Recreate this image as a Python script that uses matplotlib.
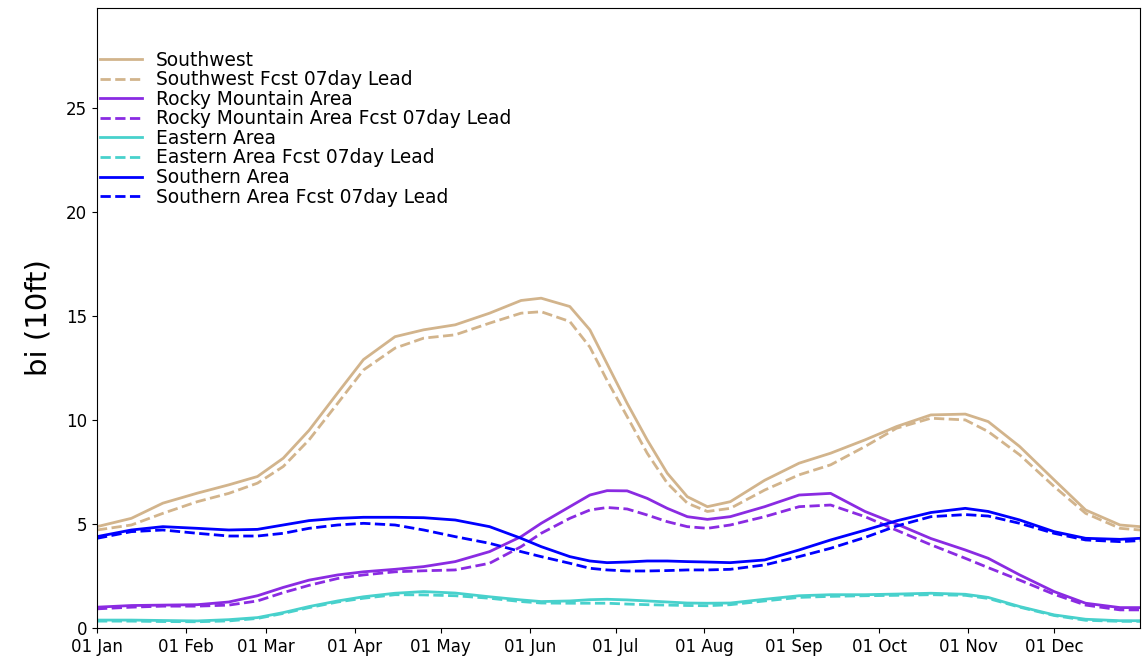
import numpy as np
import matplotlib
matplotlib.use("Agg")
import matplotlib.pyplot as plt
import matplotlib.dates as mdates

# day of year for each sample
days = [0, 12, 23, 35, 46, 56, 65, 74, 84, 93, 104,
        114, 125, 137, 148, 155, 165, 172, 178, 185, 192, 199, 206, 213,
        221, 233, 245, 256, 268, 279, 291, 303,
        311, 322, 334, 345, 357, 364]

southwest = [4.87, 5.27, 6.0, 6.48, 6.88, 7.28, 8.16, 9.5, 11.3, 12.9, 14.0,
             14.33, 14.57, 15.13, 15.74, 15.85, 15.45, 14.33, 12.7, 10.8, 9.04, 7.44, 6.31, 5.83,
             6.07, 7.1, 7.92, 8.4, 9.04, 9.68, 10.24, 10.28,
             9.92, 8.72, 7.12, 5.67, 4.95, 4.87]
southwest_fc = [4.71, 4.95, 5.51, 6.07, 6.47, 6.96, 7.76, 9.04, 10.8, 12.4, 13.45,
                13.93, 14.09, 14.65, 15.13, 15.2, 14.73, 13.5, 11.9, 10.16, 8.4, 6.96, 6.0, 5.6,
                5.75, 6.63, 7.36, 7.84, 8.72, 9.6, 10.08, 10.0,
                9.44, 8.32, 6.8, 5.51, 4.79, 4.71]

rocky = [1.0, 1.08, 1.1, 1.12, 1.25, 1.55, 1.95, 2.3, 2.55, 2.7, 2.82,
         2.95, 3.19, 3.67, 4.39, 5.03, 5.83, 6.39, 6.6, 6.59, 6.23, 5.75, 5.35, 5.22,
         5.35, 5.83, 6.39, 6.47, 5.6, 5.0, 4.3, 3.75,
         3.35, 2.55, 1.75, 1.19, 0.98, 0.98]
rocky_fc = [0.92, 1.0, 1.05, 1.05, 1.1, 1.3, 1.7, 2.05, 2.38, 2.55, 2.7,
            2.75, 2.79, 3.11, 3.91, 4.55, 5.27, 5.67, 5.79, 5.72, 5.43, 5.11, 4.87, 4.79,
            4.95, 5.35, 5.83, 5.91, 5.35, 4.7, 4.0, 3.35,
            2.9, 2.3, 1.62, 1.1, 0.87, 0.87]

eastern = [0.38, 0.38, 0.36, 0.34, 0.4, 0.5, 0.74, 1.03, 1.3, 1.5, 1.67,
           1.75, 1.68, 1.5, 1.35, 1.27, 1.3, 1.36, 1.38, 1.35, 1.3, 1.25, 1.2, 1.19,
           1.2, 1.38, 1.55, 1.6, 1.6, 1.63, 1.67, 1.62,
           1.47, 1.03, 0.63, 0.42, 0.35, 0.35]
eastern_fc = [0.33, 0.33, 0.31, 0.3, 0.34, 0.46, 0.7, 0.98, 1.25, 1.43, 1.6,
              1.59, 1.55, 1.43, 1.27, 1.2, 1.19, 1.19, 1.19, 1.15, 1.12, 1.1, 1.08, 1.07,
              1.12, 1.3, 1.47, 1.52, 1.55, 1.57, 1.6, 1.57,
              1.42, 1.0, 0.6, 0.37, 0.32, 0.32]

southern = [4.39, 4.71, 4.87, 4.79, 4.71, 4.74, 4.95, 5.16, 5.27, 5.32, 5.32,
            5.3, 5.19, 4.87, 4.31, 3.91, 3.43, 3.22, 3.14, 3.17, 3.22, 3.22, 3.19, 3.17,
            3.14, 3.27, 3.75, 4.23, 4.7, 5.15, 5.55, 5.75,
            5.6, 5.19, 4.63, 4.31, 4.26, 4.31]
southern_fc = [4.31, 4.63, 4.71, 4.55, 4.42, 4.42, 4.55, 4.79, 4.95, 5.03, 4.95,
               4.71, 4.39, 4.07, 3.67, 3.43, 3.11, 2.87, 2.79, 2.74, 2.74, 2.76, 2.79, 2.79,
               2.82, 3.03, 3.43, 3.83, 4.35, 4.9, 5.35, 5.45,
               5.38, 5.03, 4.55, 4.23, 4.15, 4.2]

dates = np.datetime64("2001-01-01") + np.array(days).astype("timedelta64[D]")

fig = plt.figure(figsize=(11.45, 6.6), dpi=100)
ax = fig.add_axes([0.0847, 0.0485, 0.911, 0.9395])

series = [
    ("Southwest", southwest, southwest_fc, "tan"),
    ("Rocky Mountain Area", rocky, rocky_fc, "blueviolet"),
    ("Eastern Area", eastern, eastern_fc, "mediumturquoise"),
    ("Southern Area", southern, southern_fc, "blue"),
]
for name, obs, fc, col in series:
    ax.plot(dates, obs, color=col, lw=2, label=name, solid_joinstyle="round")
    ax.plot(dates, fc, color=col, lw=2, ls="--", label=name + " Fcst 07day Lead")

ax.set_xlim(dates[0], dates[-1])
ax.set_ylim(0, 29.8)
ax.set_yticks([0, 5, 10, 15, 20, 25])
ax.xaxis.set_major_locator(mdates.MonthLocator())
ax.xaxis.set_major_formatter(mdates.DateFormatter("%d %b"))
ax.tick_params(labelsize=12)
ax.set_ylabel("bi (10ft)", fontsize=21, labelpad=10)

ax.legend(loc="upper left", bbox_to_anchor=(0.003, 0.931), frameon=False,
          fontsize=13.4, labelspacing=0.03, handlelength=2.25, handletextpad=0.75,
          borderpad=0, borderaxespad=0)

fig.savefig("out.png", dpi=100)
